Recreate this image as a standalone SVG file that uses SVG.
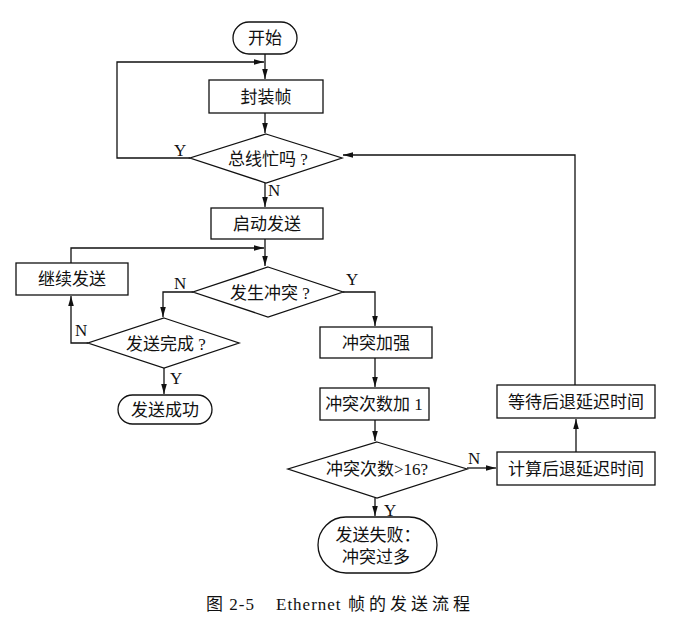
<svg xmlns="http://www.w3.org/2000/svg" width="680" height="624" viewBox="0 0 680 624">
<style>
.s{fill:#fff;stroke:#111;stroke-width:1.3}
.t{font-family:"Liberation Serif","Noto Sans CJK SC",serif;font-size:17px;fill:#111;text-anchor:middle;dominant-baseline:central}
.l{font-family:"Liberation Serif",serif;font-size:17px;fill:#111}
.c{fill:none;stroke:#111;stroke-width:1.3}
</style>
<defs>
<marker id="a" markerWidth="11" markerHeight="8" refX="10" refY="4" orient="auto" markerUnits="userSpaceOnUse"><path d="M0,1.2 L10,4 L0,6.8 Z" fill="#111"/></marker>
</defs>
<rect width="680" height="624" fill="#fff"/>
<g id="connectors">
<path class="c" d="M265,54 V79" marker-end="url(#a)"/>
<path class="c" d="M190,158 H117 V62 H264" marker-end="url(#a)"/>
<path class="c" d="M265,113 V133" marker-end="url(#a)"/>
<path class="c" d="M265,183 V207" marker-end="url(#a)"/>
<path class="c" d="M575,385 V155 H343" marker-end="url(#a)"/>
<path class="c" d="M265,239 V266" marker-end="url(#a)"/>
<path class="c" d="M71,263 V248 H264" marker-end="url(#a)"/>
<path class="c" d="M343,292 H375 V326" marker-end="url(#a)"/>
<path class="c" d="M193,292 H163 V317" marker-end="url(#a)"/>
<path class="c" d="M88,343 H71 V296" marker-end="url(#a)"/>
<path class="c" d="M164,368 V394" marker-end="url(#a)"/>
<path class="c" d="M375,358 V387" marker-end="url(#a)"/>
<path class="c" d="M375,420 V441" marker-end="url(#a)"/>
<path class="c" d="M375,498 V516" marker-end="url(#a)"/>
<path class="c" d="M467,468 H496" marker-end="url(#a)"/>
<path class="c" d="M576,452 V419" marker-end="url(#a)"/>
<text class="l" x="174" y="156">Y</text>
<text class="l" x="268" y="196">N</text>
<text class="l" x="174" y="289">N</text>
<text class="l" x="346" y="285">Y</text>
<text class="l" x="75" y="336">N</text>
<text class="l" x="170" y="384">Y</text>
<text class="l" x="468" y="464">N</text>
<text class="l" x="384" y="516">Y</text>
</g>
<g id="start"><rect class="s" x="233" y="22" width="64" height="32" rx="16"/><text class="t" x="265" y="38">开始</text></g>
<g id="encap"><rect class="s" x="209" y="80" width="114" height="33"/><text class="t" x="266" y="97">封装帧</text></g>
<g id="busy"><polygon class="s" points="266,134 342,158 266,183 190,158"/><text class="t" x="268" y="159">总线忙吗 ?</text></g>
<g id="send"><rect class="s" x="211" y="208" width="112" height="31"/><text class="t" x="267" y="224">启动发送</text></g>
<g id="collide"><polygon class="s" points="268,267 343,292 268,317 193,292"/><text class="t" x="270" y="293">发生冲突 ?</text></g>
<g id="cont"><rect class="s" x="16" y="263" width="112" height="32"/><text class="t" x="72" y="279">继续发送</text></g>
<g id="done"><polygon class="s" points="164,318 239,343 164,368 88,343"/><text class="t" x="166" y="344">发送完成 ?</text></g>
<g id="ok"><rect class="s" x="118" y="395" width="94" height="29" rx="14.5"/><text class="t" x="165" y="410">发送成功</text></g>
<g id="jam"><rect class="s" x="320" y="327" width="112" height="31"/><text class="t" x="376" y="343">冲突加强</text></g>
<g id="inc"><rect class="s" x="320" y="388" width="109" height="32"/><text class="t" x="374" y="404">冲突次数加 1</text></g>
<g id="gt16"><polygon class="s" points="377,442 467,469 377,498 288,469"/><text class="t" x="377" y="469">冲突次数&gt;16?</text></g>
<g id="fail"><rect class="s" x="318" y="517" width="119" height="56" rx="28"/><text class="t" x="378" y="535">发送失败：</text><text class="t" x="376" y="557">冲突过多</text></g>
<g id="calc"><rect class="s" x="497" y="452" width="158" height="33"/><text class="t" x="576" y="469">计算后退延迟时间</text></g>
<g id="wait"><rect class="s" x="497" y="385" width="158" height="33"/><text class="t" x="576" y="402">等待后退延迟时间</text></g>
<text class="l" y="610" style="font-family:'Liberation Serif','Noto Sans CJK SC',serif;font-size:17px"><tspan x="206" letter-spacing="1">图 2-5</tspan><tspan x="276" letter-spacing="1">Ethernet</tspan><tspan x="348" letter-spacing="4">帧的发送流程</tspan></text>
</svg>
